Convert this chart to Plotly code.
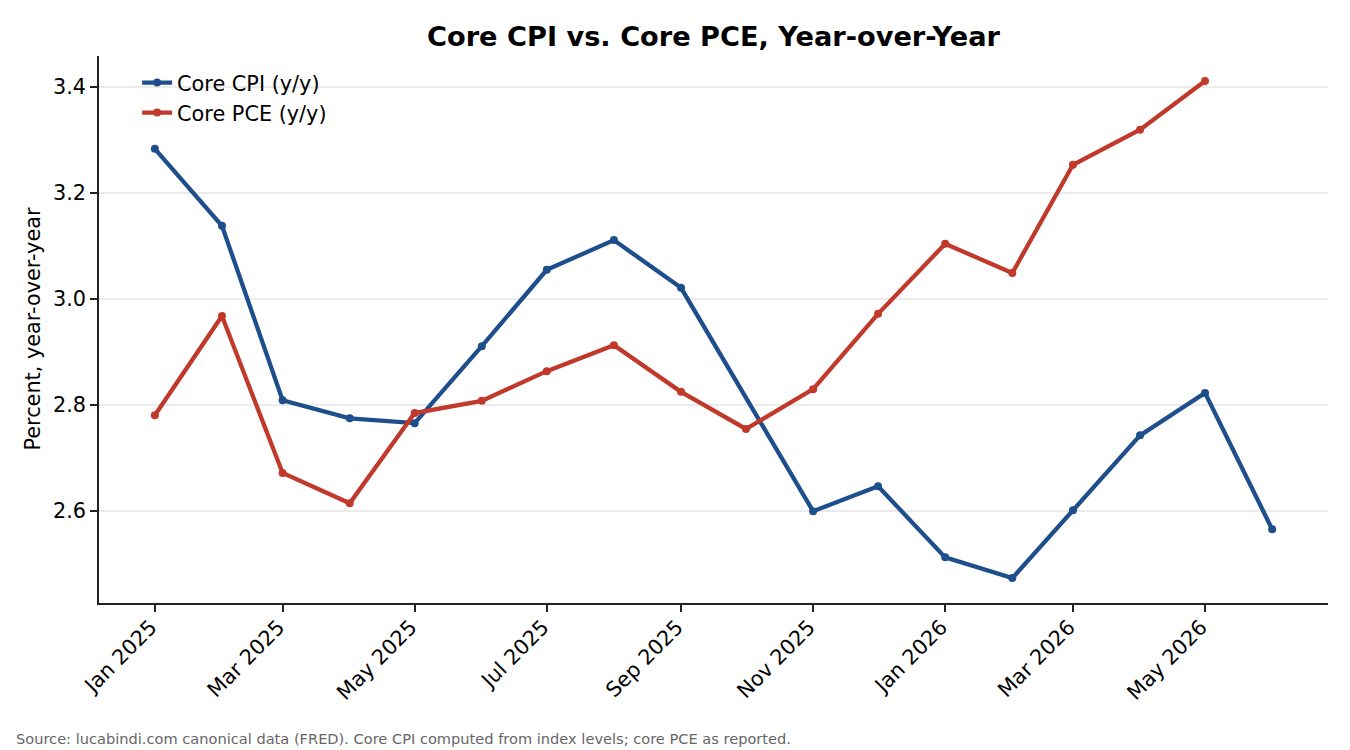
import plotly.graph_objects as go

months = ["2025-01-01", "2025-02-01", "2025-03-01", "2025-04-01", "2025-05-01", "2025-06-01",
          "2025-07-01", "2025-08-01", "2025-09-01", "2025-10-01", "2025-11-01", "2025-12-01",
          "2026-01-01", "2026-02-01", "2026-03-01", "2026-04-01", "2026-05-01", "2026-06-01"]

core_cpi = [3.283, 3.138, 2.809, 2.775, 2.766, 2.911, 3.055, 3.111, 3.021, None,
            2.600, 2.647, 2.513, 2.474, 2.602, 2.743, 2.823, 2.566]

core_pce = [2.781, 2.968, 2.672, 2.615, 2.785, 2.808, 2.864, 2.913, 2.825, 2.755,
            2.830, 2.972, 3.104, 3.049, 3.253, 3.319, 3.411, None]

y_ticks = [2.6, 2.8, 3.0, 3.2, 3.4]

FONT = "DejaVu Sans"
BLUE = "#1f4e8c"
RED = "#c0392b"

fig = go.Figure()
fig.add_trace(go.Scatter(x=months, y=core_cpi, name="Core CPI (y/y)", mode="lines+markers",
                         connectgaps=True, line=dict(color=BLUE, width=4.3),
                         marker=dict(color=BLUE, size=8)))
fig.add_trace(go.Scatter(x=months, y=core_pce, name="Core PCE (y/y)", mode="lines+markers",
                         connectgaps=True, line=dict(color=RED, width=4.3),
                         marker=dict(color=RED, size=8)))

fig.update_layout(
    width=1350, height=750,
    margin=dict(l=99, r=22, t=56, b=147),
    paper_bgcolor="white", plot_bgcolor="white",
    font=dict(family=FONT, size=20.8, color="black"),
    title=dict(text="<b>Core CPI vs. Core PCE, Year-over-Year</b>", x=(99 + 1328) / 2 / 1350,
               xanchor="center", y=1 - 36 / 750, yanchor="middle", yref="container",
               font=dict(family=FONT, size=27.2, color="black")),
    showlegend=True,
    legend=dict(x=0.031, y=0.988, xanchor="left", yanchor="top", bgcolor="rgba(255,255,255,0)",
                font=dict(family=FONT, size=20.8, color="black"), borderwidth=0),
    xaxis=dict(type="date", range=["2024-12-06 05:00", "2026-06-26 19:00"],
               tick0="2025-01-01", dtick="M2", tickformat="%b %Y", tickangle=-45,
               ticklabelshift=-4, ticklabelstandoff=-5,
               showgrid=False, zeroline=False, showline=True, linecolor="#222", linewidth=1.7,
               ticks="outside", ticklen=7, tickwidth=1.7, tickcolor="#222",
               tickfont=dict(family=FONT, size=20.8, color="black")),
    yaxis=dict(range=[2.427, 3.458], tickvals=y_ticks, tickformat=".1f",
               showgrid=True, gridcolor="#ebebeb", gridwidth=1.5, zeroline=False,
               showline=True, linecolor="#222", linewidth=1.7,
               ticks="outside", ticklen=7, tickwidth=1.7, tickcolor="#222",
               tickfont=dict(family=FONT, size=20.8, color="black")),
    annotations=[
        dict(text="Percent, year-over-year", xref="paper", yref="paper",
             x=(32 - 99) / 1229, y=0.5, xanchor="center", yanchor="middle", textangle=-90,
             showarrow=False, font=dict(family=FONT, size=20.8, color="black")),
        dict(text="Source: lucabindi.com canonical data (FRED). Core CPI computed from index levels; core PCE as reported.",
             xref="paper", yref="paper", x=(14 - 99) / 1229, y=(603 - 738) / 547,
             xanchor="left", yanchor="middle", showarrow=False,
             font=dict(family=FONT, size=14.6, color="#666666")),
    ],
)

fig.write_html("out.html")
